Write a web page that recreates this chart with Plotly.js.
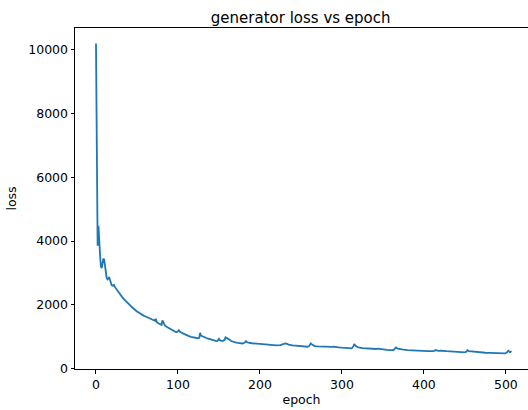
<!DOCTYPE html>
<html>
<head>
<meta charset="utf-8">
<script src="https://cdn.plot.ly/plotly-3.0.1.min.js"></script>
<style>html,body{margin:0;padding:0;background:#fff;}#chart{width:528px;height:410px;}</style>
</head>
<body>
<div id="chart"></div>
<script>
const epochs = [0,1,2,3,4,5,6,7,8,9,10,11,12,13,14,15,16,17,18,19,20,21,22,23,24,25,26,27,28,29,30,32,34,36,38,40,42,44,46,48,50,52,54,56,58,60,62,64,66,68,70,72,73,74,76,78,80,81,82,84,86,88,90,92,94,96,98,100,101,102,104,106,108,110,112,114,116,118,120,122,124,126,127,128,130,132,134,136,138,140,142,144,146,148,150,151,153,155,157,158,159,161,163,165,167,170,173,176,179,181,183,184,186,190,195,200,205,210,215,220,225,228,231,233,236,240,245,250,255,258,260,262,264,267,270,275,280,285,288,290,292,296,300,305,310,312,314,315,317,320,325,330,335,338,342,344,346,350,355,360,363,365,366,368,371,375,380,385,390,395,400,405,410,413,414,416,418,421,423,428,432,436,440,445,450,452,453,455,458,462,466,470,475,480,485,490,495,499,501,503,505,507];
const loss = [10200,4700,3850,4480,3800,3550,3200,3150,3300,3450,3420,3200,2950,2850,2800,2820,2870,2780,2680,2620,2600,2610,2620,2560,2520,2480,2440,2400,2370,2340,2300,2240,2180,2120,2060,2010,1970,1920,1870,1830,1790,1760,1720,1690,1660,1640,1620,1600,1575,1550,1520,1500,1560,1460,1420,1390,1370,1510,1440,1350,1310,1280,1250,1220,1190,1160,1140,1170,1200,1160,1120,1100,1080,1050,1030,1010,995,985,970,960,950,965,1120,1030,1000,985,965,945,925,910,900,885,870,862,930,890,868,870,900,975,960,940,900,862,840,820,805,792,785,805,860,830,808,792,778,765,752,742,733,727,732,760,785,770,738,722,712,698,686,682,702,790,742,703,692,682,672,667,677,684,672,662,652,634,627,630,700,770,702,662,642,627,614,608,612,622,612,597,587,578,576,640,660,622,600,592,578,568,562,555,552,547,542,552,580,562,555,557,547,542,537,527,522,512,505,530,575,546,535,526,512,502,494,490,482,477,474,472,500,555,514,540];

const traces = [{
  x: epochs, y: loss, type: 'scatter', mode: 'lines',
  line: {color: '#1f77b4', width: 1.8}, hoverinfo: 'skip'
}];

const font = {family: 'DejaVu Sans, sans-serif', color: '#000', size: 12.5};

const layout = {
  width: 528, height: 410,
  margin: {l: 75, r: 0, t: 28, b: 41, pad: 0},
  paper_bgcolor: '#fff', plot_bgcolor: '#fff',
  showlegend: false,
  font: font,
  title: {text: 'generator loss vs epoch', font: {family: 'DejaVu Sans, sans-serif', size: 15, color: '#000'},
          xref: 'container', x: 0.5695, xanchor: 'center', yref: 'container', y: 1 - 17.5/410, yanchor: 'middle'},
  xaxis: {
    range: [-25.6, 527], showgrid: false, zeroline: false,
    showline: true, linecolor: '#000', linewidth: 1, mirror: true,
    ticks: 'outside', ticklen: 3.5, tickwidth: 1, tickcolor: '#000',
    tickvals: [0,100,200,300,400,500], ticktext: ['0','100','200','300','400','500'],
    tickfont: font,
    title: {text: 'epoch', font: font, standoff: 4}
  },
  yaxis: {
    range: [-16, 10686], showgrid: false, zeroline: false,
    showline: true, linecolor: '#000', linewidth: 1, mirror: false,
    ticks: 'outside', ticklen: 3.5, tickwidth: 1, tickcolor: '#000',
    tickvals: [0,2000,4000,6000,8000,10000], ticktext: ['0','2000','4000','6000','8000','10000'],
    tickfont: font,
    title: {text: 'loss', font: font, standoff: 8}
  }
};

Plotly.newPlot('chart', traces, layout, {displayModeBar: false, staticPlot: true});
</script>
</body>
</html>
